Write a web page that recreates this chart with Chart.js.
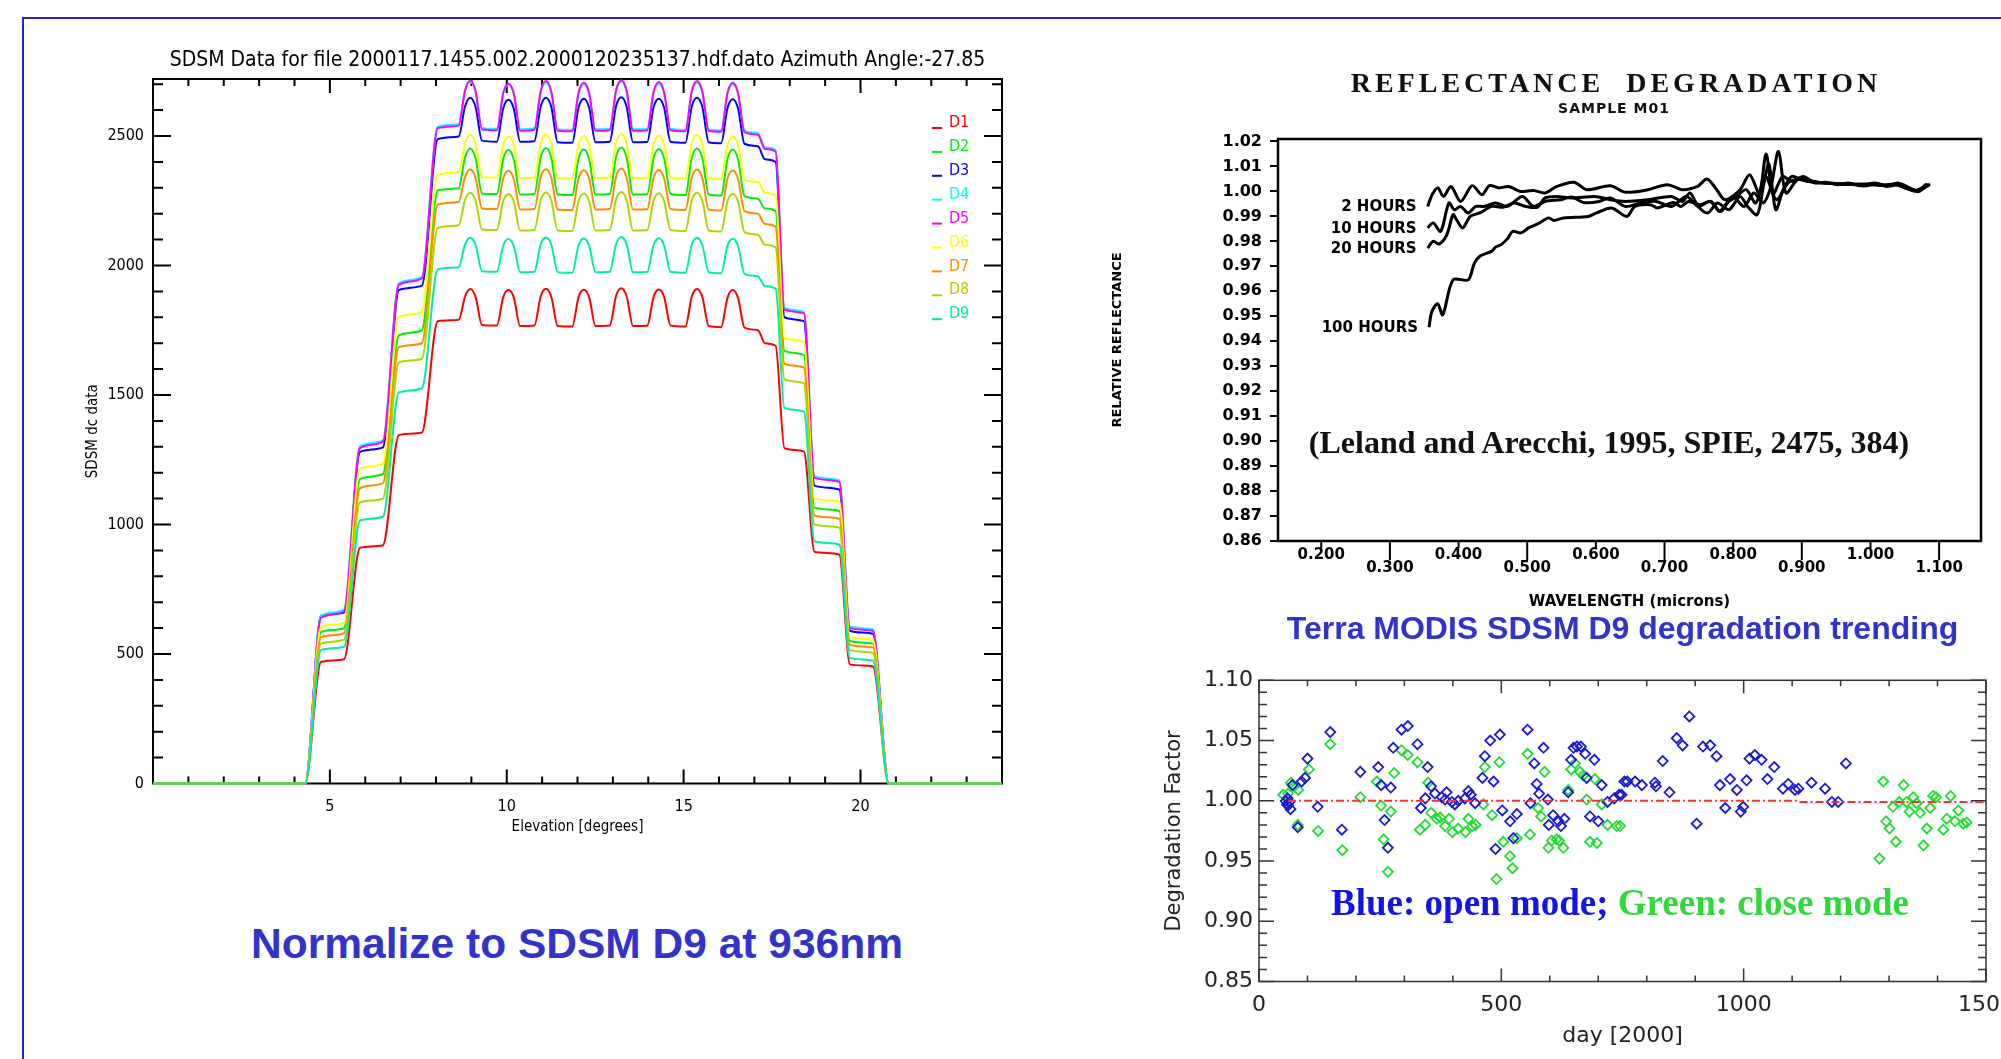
<!DOCTYPE html>
<html>
<head>
<meta charset="utf-8">
<title>SDSM D9 degradation</title>
<script src="https://cdn.jsdelivr.net/npm/chart.js@4.4.1/dist/chart.umd.min.js"></script>
<style>
  html, body { margin: 0; padding: 0; background: #fff; }
  body { position: relative; width: 2001px; height: 1059px; overflow: hidden; }
  .frame { position: absolute; left: 22px; top: 17px; width: 2100px; height: 1100px;
           border-top: 2px solid #2424cc; border-left: 2px solid #2424cc; }
  canvas { position: absolute; }
  #sdsmChart { left: 40px; top: 30px; }
  #reflChart { left: 1100px; top: 40px; }
  #trendChart { left: 1120px; top: 605px; }
  .note { position: absolute; white-space: nowrap; transform: translate(-50%, -50%); line-height: 1; }
  .normalize { left: 577px; top: 944px; font: bold 42.5px 'Liberation Sans', Arial, sans-serif; color: #3333cc; }
  .refTitle { left: 1616px; top: 83px; font: bold 28px 'Liberation Serif', 'Times New Roman', serif; letter-spacing: 4px; color: #111; }
  .refSub { left: 1614px; top: 108px; font: bold 14px 'DejaVu Sans', sans-serif; letter-spacing: 1px; color: #111; }
  .leland { left: 1609px; top: 442px; font: bold 32px 'Liberation Serif', 'Times New Roman', serif; color: #111; }
  .modes { left: 1620px; top: 902px; font: bold 37px 'Liberation Serif', 'Times New Roman', serif; }
  .modes .open { color: #1414e6; }
  .modes .close { color: #30d83c; }
</style>
</head>
<body>
<div class="frame"></div>
<canvas id="sdsmChart" width="980" height="820"></canvas>
<canvas id="reflChart" width="901" height="580"></canvas>
<canvas id="trendChart" width="881" height="454"></canvas>

<div class="note normalize">Normalize to SDSM D9 at 936nm</div>
<div class="note refTitle">REFLECTANCE&nbsp; DEGRADATION</div>
<div class="note refSub">SAMPLE M01</div>
<div class="note leland">(Leland and Arecchi, 1995, SPIE, 2475, 384)</div>
<div class="note modes"><span class="open">Blue: open mode;</span> <span class="close">Green: close mode</span></div>

<script>
const idlFont = "'DejaVu Sans Condensed', 'Liberation Sans Narrow', 'DejaVu Sans', sans-serif";
const boldSans = "'DejaVu Sans', sans-serif";

// ---- left: SDSM dc scans, one curve per detector ----
const elevation = [0, 4.3, 4.75, 5.4, 5.85, 6.5, 6.95, 7.6, 8.05, 8.64,
  8.82, 8.97, 9.12, 9.30,
  9.72, 9.90, 10.05, 10.20, 10.38,
  10.78, 10.96, 11.11, 11.26, 11.44,
  11.85, 12.03, 12.18, 12.33, 12.51,
  12.91, 13.09, 13.24, 13.39, 13.57,
  13.97, 14.15, 14.30, 14.45, 14.63,
  15.05, 15.23, 15.38, 15.53, 15.71,
  16.06, 16.24, 16.39, 16.54, 16.72,
  17.1, 17.3, 17.6, 17.85, 18.4, 18.7, 19.4, 19.7, 20.35, 20.8, 24];
const sdsmTicks = [0, 500, 1000, 1500, 2000, 2500];

const detectorNames = ['D1', 'D2', 'D3', 'D4', 'D5', 'D6', 'D7', 'D8', 'D9'];
const detectorColors = ['#ff0000', '#00f000', '#0000ff', '#00ffff', '#ff00ff',
                        '#ffff00', '#ff8c00', '#a8d800', '#00eea8'];

const d1 = [0,0,470,480,910,920,1345,1355,1785,1790, 1880,1909,1878,1770,
  1768,1878,1905,1876,1766, 1768,1881,1910,1879,1766, 1764,1878,1906,1877,1766,
  1768,1883,1912,1880,1766, 1767,1879,1907,1878,1768, 1764,1880,1909,1878,1766,
  1762,1876,1905,1874,1760, 1750, 1700,1690, 1295,1282, 895,884, 460,452, 0,0];
const d2 = [0,0,585,600,1175,1195,1730,1750,2290,2298, 2417,2452,2414,2278,
  2276,2411,2446,2409,2274, 2276,2418,2454,2415,2274, 2272,2413,2448,2411,2274,
  2276,2420,2456,2417,2274, 2275,2414,2450,2413,2276, 2272,2416,2452,2414,2274,
  2270,2412,2448,2410,2268, 2258, 2220,2210, 1670,1655, 1065,1052, 550,540, 0,0];
const d3 = [0,0,648,660,1280,1298,1905,1922,2488,2498, 2614,2648,2611,2482,
  2478,2607,2640,2605,2478, 2480,2614,2648,2612,2476, 2474,2611,2644,2609,2476,
  2478,2616,2650,2613,2476, 2477,2611,2644,2609,2478, 2474,2614,2648,2612,2476,
  2472,2608,2642,2606,2470, 2460, 2410,2400, 1800,1785, 1150,1135, 590,578, 0,0];
const d4 = [0,0,648,672,1302,1326,1932,1956,2536,2546, 2672,2708,2669,2530,
  2528,2664,2698,2662,2526, 2530,2670,2706,2667,2526, 2524,2665,2700,2663,2526,
  2528,2674,2710,2671,2526, 2527,2666,2702,2664,2528, 2524,2670,2706,2667,2526,
  2522,2664,2700,2662,2521, 2511, 2456,2446, 1836,1821, 1186,1171, 606,596, 0,0];
const d5 = [0,0,640,665,1295,1320,1925,1950,2530,2540, 2676,2714,2673,2525,
  2522,2666,2702,2664,2520, 2524,2674,2712,2671,2520, 2518,2668,2706,2666,2520,
  2522,2676,2715,2674,2520, 2521,2670,2708,2668,2522, 2518,2673,2712,2671,2520,
  2516,2667,2706,2665,2515, 2505, 2450,2440, 1830,1815, 1180,1165, 600,590, 0,0];
const d6 = [0,0,605,620,1215,1235,1800,1820,2350,2360, 2472,2505,2469,2342,
  2340,2466,2498,2464,2338, 2340,2473,2506,2470,2338, 2336,2467,2500,2465,2338,
  2340,2474,2508,2471,2338, 2339,2469,2502,2467,2340, 2336,2471,2505,2469,2338,
  2334,2466,2500,2464,2332, 2322, 2280,2270, 1720,1705, 1100,1088, 565,555, 0,0];
const d7 = [0,0,565,580,1140,1160,1685,1700,2235,2245, 2341,2371,2338,2220,
  2218,2336,2366,2334,2216, 2218,2342,2372,2339,2216, 2214,2337,2368,2335,2216,
  2218,2343,2374,2340,2216, 2217,2338,2369,2336,2218, 2214,2340,2371,2338,2216,
  2212,2336,2367,2334,2210, 2200, 2160,2150, 1620,1606, 1035,1022, 535,525, 0,0];
const d8 = [0,0,540,555,1085,1100,1625,1640,2145,2155, 2253,2281,2250,2139,
  2137,2248,2276,2246,2135, 2137,2253,2282,2251,2135, 2133,2249,2278,2247,2135,
  2137,2255,2284,2252,2135, 2136,2250,2279,2248,2137, 2133,2252,2281,2250,2135,
  2131,2248,2277,2246,2129, 2119, 2080,2070, 1560,1546, 1000,988, 515,505, 0,0];
const d9 = [0,0,515,528,1015,1030,1510,1525,1985,1993, 2081,2107,2079,1978,
  1976,2077,2102,2075,1974, 1976,2082,2108,2080,1974, 1972,2078,2104,2076,1974,
  1976,2083,2110,2081,1974, 1975,2079,2105,2077,1976, 1972,2080,2107,2078,1974,
  1970,2077,2103,2075,1968, 1958, 1920,1910, 1450,1436, 935,923, 485,475, 0,0];
const detectorData = [d1, d2, d3, d4, d5, d6, d7, d8, d9];

// ---- top right: relative reflectance vs wavelength ----
const wl2h = [0.355,0.362,0.370,0.378,0.389,0.403,0.420,0.434,0.445,0.459,0.473,0.490,0.509,0.526,0.543,0.568,0.587,0.621,0.643,0.676,0.704,0.726,0.748,0.762,0.776,0.788,0.810,0.824,0.838,0.848,0.858,0.872,0.885,0.902,0.919,0.935,0.952,0.968,0.985,1.007,1.024,1.040,1.057,1.071,1.080,1.086];
const refl2h = [0.9940,0.9990,1.0014,0.9980,1.0020,0.9960,1.0023,0.9987,1.0023,1.0014,1.0020,1.0000,1.0004,0.9994,1.0020,1.0037,1.0007,1.0023,0.9997,1.0007,1.0027,1.0007,1.0020,1.0050,1.0007,0.9967,1.0007,1.0067,0.9994,1.0150,0.9990,1.0060,1.0040,1.0060,1.0034,1.0037,1.0027,1.0034,1.0023,1.0034,1.0020,1.0034,1.0007,1.0000,1.0027,1.0023];
const wl10h = [0.355,0.363,0.374,0.386,0.394,0.403,0.414,0.425,0.437,0.454,0.471,0.493,0.509,0.526,0.549,0.565,0.582,0.605,0.621,0.643,0.665,0.688,0.710,0.732,0.749,0.766,0.782,0.799,0.816,0.830,0.844,0.855,0.866,0.877,0.894,0.912,0.930,0.950,0.970,0.990,1.010,1.030,1.045,1.060,1.072,1.082];
const refl10h = [0.9854,0.9874,0.9840,0.9954,0.9927,0.9940,0.9914,0.9940,0.9940,0.9954,0.9940,0.9980,0.9940,0.9960,0.9967,0.9978,0.9956,0.9960,0.9974,0.9940,0.9954,0.9960,0.9940,0.9980,0.9940,0.9960,0.9920,0.9980,0.9940,0.9994,0.9954,1.0020,1.0160,0.9994,1.0047,1.0040,1.0035,1.0030,1.0032,1.0022,1.0030,1.0022,1.0030,1.0010,1.0003,1.0025];
const wl20h = [0.355,0.363,0.372,0.383,0.392,0.397,0.406,0.417,0.431,0.448,0.465,0.481,0.498,0.515,0.526,0.543,0.565,0.599,0.621,0.643,0.676,0.710,0.726,0.737,0.749,0.763,0.777,0.794,0.810,0.821,0.835,0.844,0.852,0.862,0.873,0.885,0.899,0.915,0.940,0.960,0.978,1.000,1.020,1.036,1.052,1.068,1.084];
const refl20h = [0.9773,0.9800,0.9790,0.9827,0.9907,0.9887,0.9854,0.9900,0.9914,0.9940,0.9937,0.9954,0.9940,0.9937,0.9974,0.9980,0.9974,0.9980,0.9967,0.9960,0.9967,0.9980,0.9960,0.9994,0.9940,0.9914,0.9954,0.9927,0.9980,0.9940,0.9907,1.0020,1.0110,0.9927,1.0007,1.0060,1.0047,1.0038,1.0033,1.0030,1.0027,1.0030,1.0025,1.0030,1.0012,1.0004,1.0022];
const wl100h = [0.357,0.361,0.3695,0.377,0.392,0.414,0.423,0.432,0.448,0.454,0.462,0.471,0.479,0.491,0.502,0.516,0.531,0.539,0.553,0.589,0.601,0.623,0.645,0.657,0.679,0.690,0.713,0.724,0.735,0.752,0.768,0.780,0.791,0.805,0.819,0.833,0.847,0.863,0.880,0.895,0.910,0.925,0.945,0.962,0.980,1.000,1.018,1.035,1.050,1.065,1.078,1.087];
const refl100h = [0.9456,0.9518,0.9550,0.9506,0.9646,0.9646,0.9713,0.9742,0.9760,0.9777,0.9787,0.9810,0.9840,0.9834,0.9854,0.9871,0.9894,0.9884,0.9894,0.9900,0.9914,0.9934,0.9900,0.9940,0.9947,0.9934,0.9956,0.9940,0.9960,0.9947,0.9960,0.9920,0.9954,0.9980,1.0007,0.9954,1.0060,0.9967,1.0034,1.0050,1.0045,1.0036,1.0033,1.0028,1.0030,1.0028,1.0024,1.0028,1.0015,1.0003,1.0018,1.0028];
const hourLabels = ['2 HOURS', '10 HOURS', '20 HOURS', '100 HOURS'];
const waveTicks = [0.2, 0.3, 0.4, 0.5, 0.6, 0.7, 0.8, 0.9, 1.0, 1.1];

// ---- bottom right: SDSM D9 degradation factor vs day ----
const openDay = [55,59,63,60,65,58,69,80,88,95,100,121,147,171,209,246,252,259,266,272,277,294,307,327,334,343,348,355,363,377,384,387,398,404,411,425,432,437,446,461,466,477,484,488,497,502,518,525,532,554,560,568,573,578,587,596,598,607,618,623,630,638,644,649,656,664,673,676,683,692,700,707,719,733,743,748,754,760,776,790,817,819,833,847,862,874,888,903,916,931,944,951,962,972,986,994,999,1006,1012,1023,1037,1049,1063,1081,1092,1106,1113,1140,1168,1182,1195,1211];
const openFactor = [0.9998,1.002,0.999,0.996,0.993,0.997,1.013,0.978,1.016,1.019,1.035,0.995,1.057,0.976,1.024,1.028,1.013,0.984,0.961,1.011,1.044,1.059,1.062,1.047,0.994,1.002,1.028,1.012,1.006,1.003,1.001,1.007,0.999,0.997,1.000,1.002,1.008,1.005,0.998,1.019,1.037,1.050,1.016,0.960,1.055,0.992,0.983,0.969,0.989,1.059,0.998,1.031,1.014,1.006,1.044,1.001,0.980,0.988,0.983,0.979,0.985,1.007,1.034,1.044,1.045,1.045,1.039,1.019,0.987,1.034,0.983,1.013,0.999,1.002,1.005,1.005,1.016,1.016,1.016,1.013,1.015,1.012,1.033,1.007,1.052,1.046,1.070,0.981,1.045,1.046,1.037,1.013,0.994,1.018,1.009,0.991,0.995,1.017,1.035,1.038,1.034,1.018,1.028,1.010,1.014,1.009,1.010,1.015,1.010,0.999,0.999,1.031];
const closeDay = [50,60,66,73,81,80,103,122,147,172,209,243,252,257,266,272,279,294,307,327,332,343,349,355,367,374,384,392,399,411,426,432,440,447,463,466,481,490,496,504,518,523,532,554,559,576,582,589,597,604,614,619,628,638,644,652,662,669,676,683,693,697,707,719,738,745,1280,1288,1294,1301,1308,1314,1321,1330,1336,1342,1350,1357,1364,1371,1378,1385,1391,1397,1412,1419,1427,1436,1443,1453,1460];
const closeFactor = [1.005,1.006,1.015,1.012,1.009,0.980,1.026,0.975,1.047,0.959,1.003,1.016,0.996,0.968,0.941,0.991,1.023,1.042,1.038,1.032,0.976,0.980,1.015,0.990,0.985,0.986,0.979,0.985,0.974,0.977,0.974,0.985,0.979,0.980,0.997,1.028,0.988,0.935,1.032,0.966,0.954,0.944,0.969,1.039,0.972,0.994,0.987,1.024,0.961,0.967,0.968,0.967,0.961,1.009,1.026,1.031,1.024,1.021,1.001,0.966,1.018,0.965,0.997,0.980,0.979,0.979,0.952,1.016,0.983,0.977,0.995,0.966,0.999,1.013,0.999,0.991,1.003,0.998,0.990,0.963,0.977,0.994,1.004,1.003,0.976,0.985,1.004,0.983,0.992,0.981,0.982];
const refDay = [60, 1112, 1114, 1500];
const refFactor = [1.0, 1.0, 0.999, 0.999];

const pts = (xs, ys) => xs.map((x, i) => ({ x, y: ys[i] }));

// pin an axis box to a fixed size so the plot areas land where the slide has them
function fixSize(prop, size) {
  return scale => {
    scale[prop] = size;
    scale.paddingTop = scale.paddingBottom = scale.paddingLeft = scale.paddingRight = 0;
  };
}

// IDL style frame: box plus inward ticks on all four sides
function idlFrame(o) {
  return {
    id: 'idlFrame',
    beforeDatasetsDraw(chart) {
      const { ctx, chartArea: a, scales: { x, y } } = chart;
      ctx.save();
      ctx.strokeStyle = o.color;
      ctx.lineWidth = o.width;
      ctx.strokeRect(a.left, a.top, a.right - a.left, a.bottom - a.top);
      ctx.beginPath();
      const xr = Math.round(o.xMajor / o.xMinor);
      for (let k = Math.ceil(x.min / o.xMinor - 1e-9); k * o.xMinor <= x.max + 1e-9; k++) {
        const px = x.getPixelForValue(k * o.xMinor);
        const len = k % xr === 0 ? o.hMajor : o.hMinor;
        ctx.moveTo(px, a.bottom); ctx.lineTo(px, a.bottom - len);
        ctx.moveTo(px, a.top); ctx.lineTo(px, a.top + len);
      }
      const yr = Math.round(o.yMajor / o.yMinor);
      for (let k = Math.ceil(y.min / o.yMinor - 1e-9); k * o.yMinor <= y.max + 1e-9; k++) {
        const py = y.getPixelForValue(k * o.yMinor);
        const len = k % yr === 0 ? o.vMajor : o.vMinor;
        ctx.moveTo(a.left, py); ctx.lineTo(a.left + len, py);
        ctx.moveTo(a.right, py); ctx.lineTo(a.right - len, py);
      }
      ctx.stroke();
      ctx.restore();
    }
  };
}

const detectorLegend = {
  id: 'detectorLegend',
  afterDatasetsDraw(chart) {
    const { ctx, chartArea: a } = chart;
    ctx.save();
    ctx.font = '16px ' + idlFont;
    ctx.textBaseline = 'middle';
    ctx.lineWidth = 2;
    detectorNames.forEach((name, i) => {
      const yy = a.top + 44 + i * 23.9;
      ctx.strokeStyle = detectorColors[i];
      ctx.beginPath(); ctx.moveTo(a.right - 70, yy + 5); ctx.lineTo(a.right - 60, yy + 5); ctx.stroke();
      ctx.fillStyle = detectorColors[i];
      ctx.fillText(name, a.right - 53, yy);
    });
    ctx.restore();
  }
};

new Chart(document.getElementById('sdsmChart'), {
  type: 'line',
  data: {
    datasets: detectorData.map((vals, i) => ({
      label: detectorNames[i],
      data: pts(elevation, vals),
      borderColor: detectorColors[i],
      borderWidth: 2,
      pointRadius: 0,
      cubicInterpolationMode: 'monotone',
      order: detectorData.length - i,
      clip: 4
    }))
  },
  options: {
    responsive: false,
    animation: false,
    layout: { padding: { left: 33, right: 18, top: 0, bottom: 6.5 } },
    plugins: {
      legend: { display: false },
      tooltip: { enabled: false },
      title: {
        display: true, fullSize: false, color: '#000',
        text: 'SDSM Data for file 2000117.1455.002.2000120235137.hdf.dato Azimuth Angle:-27.85',
        font: { family: idlFont, size: 21, weight: 'normal' },
        padding: { top: 18.4, bottom: 5.4 }
      }
    },
    scales: {
      x: {
        type: 'linear', min: 0, max: 24,
        afterFit: fixSize('height', 60),
        grid: { display: false, drawTicks: false }, border: { display: false },
        ticks: { stepSize: 5, includeBounds: false, color: '#000', padding: 14,
                 font: { family: idlFont, size: 16 }, callback: v => (v === 0 ? '' : String(v)) },
        title: { display: true, text: 'Elevation [degrees]', color: '#000',
                 font: { family: idlFont, size: 15 }, padding: { top: 0, bottom: 7.5 } }
      },
      y: {
        min: 0, max: 2720,
        afterFit: fixSize('width', 80),
        afterBuildTicks: s => { s.ticks = sdsmTicks.map(v => ({ value: v })); },
        grid: { display: false, drawTicks: false }, border: { display: false },
        ticks: { color: '#000', padding: 9, font: { family: idlFont, size: 16 }, callback: v => String(v) },
        title: { display: true, text: 'SDSM dc data', color: '#000',
                 font: { family: idlFont, size: 15 }, padding: { top: 11, bottom: 0 } }
      }
    }
  },
  plugins: [idlFrame({ color: '#000', width: 2, xMinor: 1, xMajor: 5, yMinor: 100, yMajor: 500,
                       hMinor: 7, hMajor: 14, vMinor: 10, vMajor: 18 }), detectorLegend]
});

// ---- reflectance chart ----
const reflDecor = {
  id: 'reflDecor',
  afterDatasetsDraw(chart) {
    const { ctx, chartArea: a, scales: { x, y } } = chart;
    ctx.save();
    ctx.strokeStyle = '#000';
    ctx.lineWidth = 2.5;
    ctx.strokeRect(a.left, a.top, a.right - a.left, a.bottom - a.top);
    ctx.font = 'bold 15px ' + boldSans;
    ctx.fillStyle = '#000';
    ctx.textAlign = 'center';
    ctx.textBaseline = 'middle';
    ctx.lineWidth = 2;
    waveTicks.forEach((v, i) => {
      const px = x.getPixelForValue(v);
      const low = i % 2 === 1;
      ctx.beginPath(); ctx.moveTo(px, a.bottom); ctx.lineTo(px, a.bottom + (low ? 19 : 7)); ctx.stroke();
      ctx.fillText(v.toFixed(3), px, a.bottom + (low ? 27 : 14));
    });
    ctx.textAlign = 'right';
    chart.data.datasets.forEach((ds, i) => {
      const p = ds.data[0];
      ctx.fillText(hourLabels[i], x.getPixelForValue(p.x) - 11, y.getPixelForValue(p.y) + 1);
    });
    ctx.restore();
  }
};

const hourSeries = [[wl2h, refl2h], [wl10h, refl10h], [wl20h, refl20h], [wl100h, refl100h]];

new Chart(document.getElementById('reflChart'), {
  type: 'line',
  data: {
    datasets: hourSeries.map(([xs, ys], i) => ({
      label: hourLabels[i],
      data: pts(xs, ys),
      borderColor: '#000',
      borderWidth: 3,
      pointRadius: 0,
      tension: 0.3
    }))
  },
  options: {
    responsive: false,
    animation: false,
    layout: { padding: { left: 0, right: 20, top: 99, bottom: 0 } },
    plugins: { legend: { display: false }, tooltip: { enabled: false } },
    scales: {
      x: {
        type: 'linear', min: 0.137, max: 1.161,
        afterFit: fixSize('height', 79),
        grid: { display: false }, border: { display: false },
        ticks: { display: false },
        title: { display: true, text: 'WAVELENGTH (microns)', color: '#000',
                 font: { family: boldSans, size: 15, weight: 'bold' }, padding: { top: 0, bottom: 9 } }
      },
      y: {
        min: 0.86, max: 1.021,
        afterFit: fixSize('width', 178),
        grid: { display: true, drawOnChartArea: false, drawTicks: true, tickLength: 8,
                color: '#000', lineWidth: 2 },
        border: { display: false },
        ticks: { stepSize: 0.01, includeBounds: false, color: '#000', padding: 8,
                 font: { family: boldSans, size: 16, weight: 'bold' }, callback: v => v.toFixed(2) },
        title: { display: true, text: 'RELATIVE REFLECTANCE', color: '#000',
                 font: { family: boldSans, size: 13, weight: 'bold' }, padding: { top: 10, bottom: 0 } }
      }
    }
  },
  plugins: [reflDecor]
});

// ---- degradation trending chart ----
const pointStyleOf = color => ({
  pointStyle: 'rectRot', pointRadius: 5, pointBorderWidth: 1.8,
  borderColor: color, backgroundColor: 'rgba(0,0,0,0)'
});

new Chart(document.getElementById('trendChart'), {
  type: 'scatter',
  data: {
    datasets: [
      Object.assign({ label: 'close mode', data: pts(closeDay, closeFactor), order: 2 }, pointStyleOf('#22dd33')),
      Object.assign({ label: 'open mode', data: pts(openDay, openFactor), order: 1 }, pointStyleOf('#1a1ad2')),
      { label: 'reference', data: pts(refDay, refFactor), showLine: true, pointRadius: 0,
        borderColor: '#ff3030', borderWidth: 2, borderDash: [8, 3, 2, 3], order: 0 }
    ]
  },
  options: {
    responsive: false,
    animation: false,
    layout: { padding: { left: 0, right: 15, top: 0, bottom: 0 } },
    plugins: {
      legend: { display: false },
      tooltip: { enabled: false },
      title: {
        display: true, fullSize: false, color: '#3333cc',
        text: 'Terra MODIS SDSM D9 degradation trending',
        font: { family: "'Liberation Sans', Arial, sans-serif", size: 32, weight: 'bold' },
        padding: { top: 5.8, bottom: 31.1 }
      }
    },
    scales: {
      x: {
        type: 'linear', min: 0, max: 1500,
        afterFit: fixSize('height', 77.5),
        grid: { display: false, drawTicks: false }, border: { display: false },
        ticks: { stepSize: 500, color: '#222', padding: 11, font: { family: boldSans, size: 22 },
                 callback: v => String(v) },
        title: { display: true, text: 'day [2000]', color: '#222',
                 font: { family: boldSans, size: 22 }, padding: { top: 0, bottom: 9.8 } }
      },
      y: {
        min: 0.85, max: 1.10,
        afterFit: fixSize('width', 139),
        grid: { display: false, drawTicks: false }, border: { display: false },
        ticks: { stepSize: 0.05, color: '#222', padding: 6, font: { family: boldSans, size: 22 },
                 callback: v => v.toFixed(2) },
        title: { display: true, text: 'Degradation Factor', color: '#222',
                 font: { family: boldSans, size: 21 }, padding: { top: 42.4, bottom: 0 } }
      }
    }
  },
  plugins: [idlFrame({ color: '#333', width: 1.5, xMinor: 100, xMajor: 500, yMinor: 0.01, yMajor: 0.05,
                       hMinor: 6, hMajor: 13, vMinor: 8, vMajor: 15 })]
});
</script>
</body>
</html>
